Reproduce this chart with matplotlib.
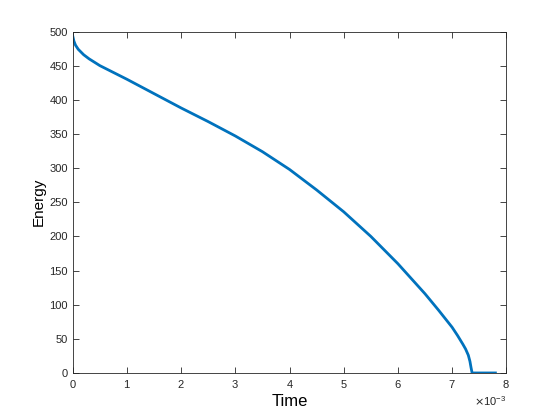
import matplotlib
matplotlib.use("Agg")
import matplotlib.pyplot as plt
from matplotlib.ticker import ScalarFormatter
import numpy as np

# --- data (time in ms, energy) ---
tempo_ms = [0.0, 0.02, 0.05, 0.1, 0.2, 0.3, 0.5, 0.75, 1.0, 1.5, 2.0, 2.5,
            3.0, 3.5, 4.0, 4.5, 5.0, 5.5, 6.0, 6.5, 6.75, 7.0, 7.1, 7.2,
            7.25, 7.3, 7.33, 7.35, 7.37, 7.8]
energia = [493, 486, 480, 474, 466, 460, 450, 440, 430, 409, 388, 368,
           347, 324, 298, 268, 236, 200, 160, 116, 92, 67, 55, 42,
           35, 26, 17, 8, 0, 0]
tempo = np.array(tempo_ms) * 1e-3

plt.rcParams['font.family'] = ['Liberation Sans', 'DejaVu Sans']

fig = plt.figure(figsize=(5.6, 4.2), dpi=100)
ax = fig.add_axes([0.13, 0.112, 0.774, 0.813])

ax.plot(tempo, energia, color='#0072BD', linewidth=2.0,
        solid_joinstyle='round')

ax.set_xlim(0, 8e-3)
ax.set_ylim(0, 500)
ax.set_xticks(np.arange(0, 9) * 1e-3)
ax.set_yticks(range(0, 501, 50))

fmt = ScalarFormatter(useMathText=True)
fmt.set_powerlimits((-2, 2))
ax.xaxis.set_major_formatter(fmt)
ax.xaxis.get_offset_text().set_fontsize(8)
ax.xaxis.get_offset_text().set_color('#555555')

ax.tick_params(direction='in', top=True, right=True, labelsize=8,
               length=4, width=0.6, colors='#262626')
for s in ax.spines.values():
    s.set_linewidth(0.6)
    s.set_color('#262626')

ax.set_xlabel('Time', fontsize=12, labelpad=3)
ax.set_ylabel('Energy', fontsize=11, labelpad=3)

fig.savefig('out.png', dpi=100)
